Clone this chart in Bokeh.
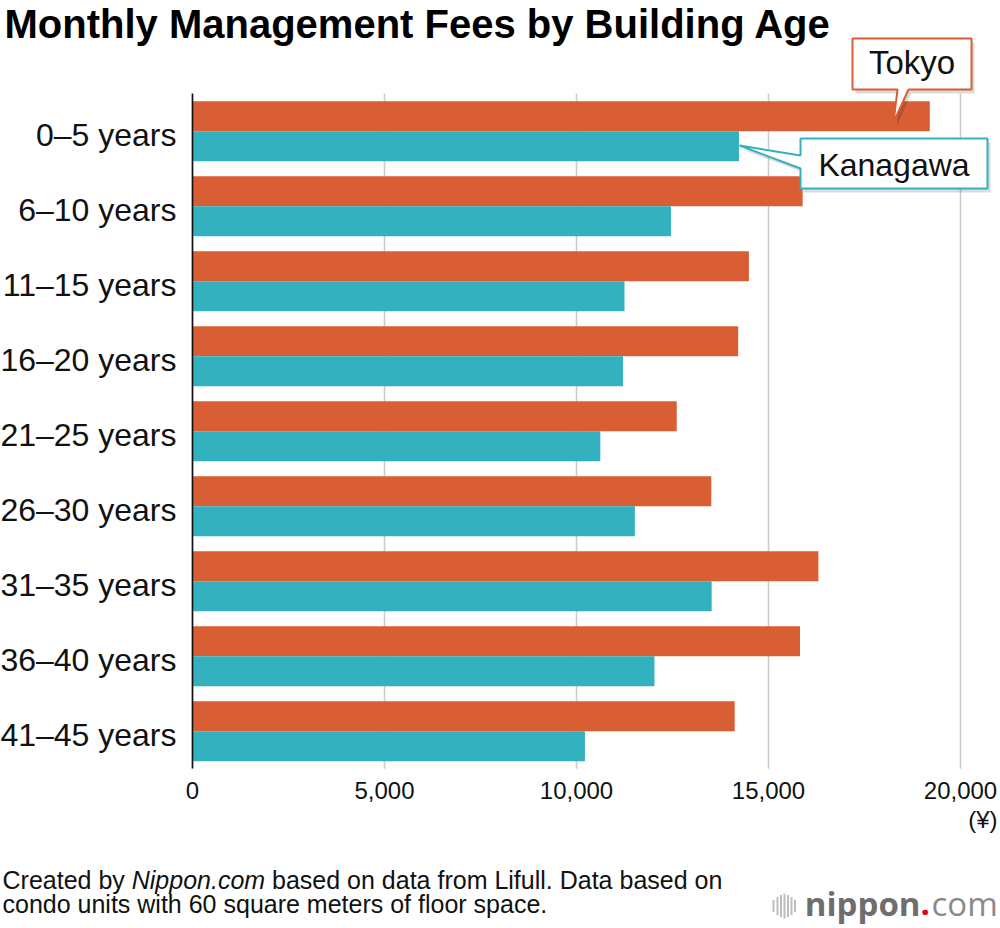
from bokeh.plotting import figure
from bokeh.models import (ColumnDataSource, Range1d, FixedTicker, NumeralTickFormatter,
                          Label, PolyAnnotation, BoxAnnotation)
from bokeh.transform import dodge
from bokeh.embed import file_html
from bokeh.resources import INLINE

# ---------------- data ----------------
ages = ["0–5 years", "6–10 years", "11–15 years", "16–20 years", "21–25 years",
        "26–30 years", "31–35 years", "36–40 years", "41–45 years"]
tokyo = [19200, 15890, 14490, 14210, 12610, 13510, 16300, 15820, 14120]
kanagawa = [14230, 12460, 11250, 11210, 10620, 11520, 13520, 12030, 10220]
x_ticks = [0, 5000, 10000, 15000, 20000]

title_text = "Monthly Management Fees by Building Age"
unit_text = "(¥)"

TOKYO_C = "#D95E33"
KANA_C = "#33B1BF"

# ---------------- layout (canvas pixels) ----------------
W, H = 1000, 928
AX_X = 192.0          # canvas x of value 0
PX_PER_UNIT = 768.0 / 20000
CAT_TOP = 93.2        # canvas y of top edge of first category band
CAT_PX = 75.0         # band height per category
LABEL_SHIFT = 0.05    # category labels sit slightly below band centre
n = len(ages)

x_start = (0 - AX_X) / PX_PER_UNIT
x_end = (W - AX_X) / PX_PER_UNIT
y_top = (0 - CAT_TOP) / CAT_PX - 0.5
y_bottom = (H - CAT_TOP) / CAT_PX - 0.5

p = figure(width=W, height=H, output_backend="svg", toolbar_location=None,
           x_range=Range1d(x_start, x_end), y_range=Range1d(y_bottom, y_top),
           min_border=0)
p.min_border_left = p.min_border_right = p.min_border_top = p.min_border_bottom = 0
p.outline_line_color = None
p.background_fill_color = "white"
p.border_fill_color = "white"
p.grid.visible = False

idx = list(range(n))
src = ColumnDataSource(data=dict(idx=idx, age=ages, tokyo=tokyo, kanagawa=kanagawa))

# vertical grid lines at tick values, spanning the category bands
p.segment(x0=x_ticks, x1=x_ticks, y0=-0.5, y1=n - 0.5, line_color="#cccccc", line_width=1.6)

p.hbar(y=dodge("idx", -0.2), right="tokyo", left=0, height=0.4,
       source=src, fill_color=TOKYO_C, line_color=None)
p.hbar(y=dodge("idx", 0.2), right="kanagawa", left=0, height=0.4,
       source=src, fill_color=KANA_C, line_color=None)

# axes placed at fixed data locations
xa = p.xaxis[0]
xa.fixed_location = n - 0.5
xa.bounds = (x_ticks[0], x_ticks[-1])
xa.ticker = FixedTicker(ticks=x_ticks)
xa.formatter = NumeralTickFormatter(format="0,0")
xa.axis_line_color = None
xa.major_tick_line_color = None
xa.minor_tick_line_color = None
xa.major_label_text_font = "Liberation Sans"
xa.major_label_text_font_size = "24px"
xa.major_label_text_color = "#111111"
xa.major_label_standoff = 7

ya = p.yaxis[0]
ya.fixed_location = 0
ya.bounds = (-0.5, n - 0.5)
tick_pos = [i + LABEL_SHIFT for i in idx]
ya.ticker = FixedTicker(ticks=tick_pos)
ya.major_label_overrides = {t: a for t, a in zip(tick_pos, ages)}
ya.axis_line_color = "#111111"
ya.axis_line_width = 1.6
ya.major_tick_line_color = None
ya.minor_tick_line_color = None
ya.major_label_text_font = "Liberation Sans"
ya.major_label_text_font_size = "32px"
ya.major_label_text_color = "#111111"
ya.major_label_standoff = 10


def callout(pts, color):
    p.add_layout(PolyAnnotation(xs=[a + 3 for a, b in pts], ys=[b + 4 for a, b in pts],
                                xs_units="canvas", ys_units="canvas",
                                fill_color="#000000", fill_alpha=0.14,
                                line_color=None, level="overlay"))
    p.add_layout(PolyAnnotation(xs=[a for a, b in pts], ys=[b for a, b in pts],
                                xs_units="canvas", ys_units="canvas",
                                fill_color="white", fill_alpha=1.0, line_color=color,
                                line_alpha=1.0, line_width=2, level="overlay"))


def label(px, py, text, **kw):
    opts = dict(text_font="Liberation Sans", text_color="#111111", level="overlay",
                text_baseline="middle")
    opts.update(kw)
    p.add_layout(Label(x=px, y=py, x_units="canvas", y_units="canvas", text=text, **opts))


# Tokyo callout
callout([(852, 38), (971, 38), (971, 89), (908, 89), (893, 122), (897, 89), (852, 89)], TOKYO_C)
label(911.5, 62, "Tokyo", text_align="center", text_font_size="33px")
# Kanagawa callout
callout([(800, 138), (987, 138), (987, 188), (800, 188), (800, 168), (739, 145), (800, 155)], KANA_C)
label(893.5, 164, "Kanagawa", text_align="center", text_font_size="32px")

# title
label(4, 23.5, title_text, text_align="left", text_font_style="bold",
      text_font_size="40px", text_color="#000000")
# unit
label(997, 819, unit_text, text_align="right", text_font_size="24px")

# footer
FS = 25
x0 = 2
label(x0, 879, "Created by", text_font_size=f"{FS}px")
label(x0 + 5.169 * FS, 879, "Nippon.com", text_font_style="italic", text_font_size=f"{FS}px")
label(x0 + (5.169 + 5.335 + 0.278) * FS, 879, "based on data from Lifull. Data based on",
      text_font_size=f"{FS}px")
label(x0, 903, "condo units with 60 square meters of floor space.", text_font_size=f"{FS}px")

# logo
bar_x = [773, 777, 780.5, 784, 787.5, 791, 794.5]
bar_h = [12, 18, 22, 25, 22, 18, 12]
for bx, bh in zip(bar_x, bar_h):
    p.add_layout(BoxAnnotation(left=bx - 1, right=bx + 1,
                               top=905.5 - bh / 2, bottom=905.5 + bh / 2,
                               left_units="canvas", right_units="canvas",
                               top_units="canvas", bottom_units="canvas",
                               fill_color="#bdbdbd", fill_alpha=1, line_color=None))
label(920, 903, "nippon", text_align="right",
      text_font="Open Sans", text_font_style="bold", text_font_size="33px", text_color="#6e6e6e")
label(920, 903, ".", text_align="left",
      text_font="Open Sans", text_font_style="bold", text_font_size="33px", text_color="#e60012")
label(931, 903, "com", text_align="left",
      text_font="Open Sans", text_font_size="33px", text_color="#8a8a8a")

open("out.html", "w").write(file_html(p, INLINE))
